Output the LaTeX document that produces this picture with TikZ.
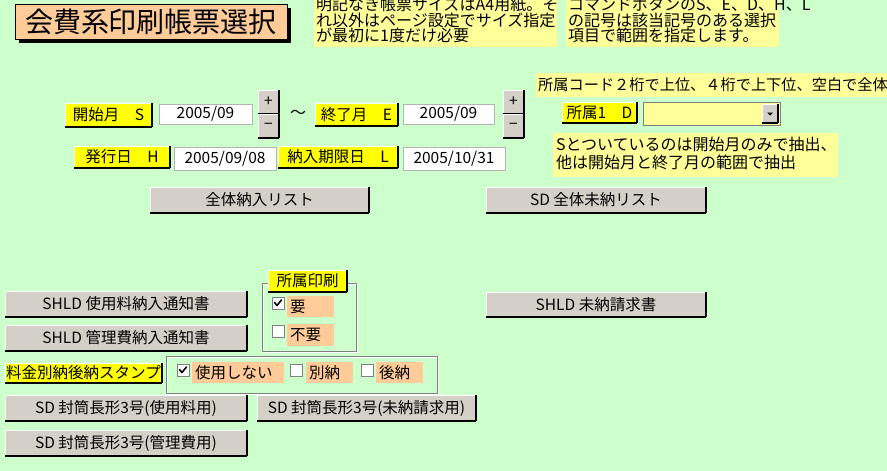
\documentclass[tikz,border=0pt]{standalone}
\usepackage{fontspec}
\setmainfont{Noto Sans CJK JP}
\usetikzlibrary{shadows}
\definecolor{bgc}{HTML}{CCFFCC}
\definecolor{notec}{HTML}{FFFF99}
\definecolor{peach}{HTML}{FFCC99}
\definecolor{btng}{HTML}{D4D0C8}
\definecolor{ylw}{HTML}{FFFF00}
\definecolor{frameg}{HTML}{808080}
\tikzset{
  base/.style={anchor=north west, inner sep=0pt, outer sep=0pt, font=\fontsize{15.5}{17}\selectfont},
  bevel/.style={append after command={
      (\tikzlastnode.south west) edge[draw=white,line width=1pt] (\tikzlastnode.north west)
      (\tikzlastnode.north west) edge[draw=white,line width=1pt] (\tikzlastnode.north east)
      (\tikzlastnode.south west) edge[draw=black,line width=1.5pt] (\tikzlastnode.south east)
      (\tikzlastnode.south east) edge[draw=black,line width=1.5pt] (\tikzlastnode.north east)}},
  gbtn/.style={base, fill=btng, bevel},
  ybtn/.style={base, fill=ylw, bevel},
  fld/.style={base, fill=white, draw=frameg!60, line width=1pt},
  note/.style={base, fill=notec},
  txtline/.style={anchor=base west, inner sep=0pt, font=\fontsize{16}{18}\selectfont},
  plab/.style={base, fill=peach, align=left, inner xsep=3pt},
  cbx/.style={base, fill=white, draw=frameg, line width=1pt, minimum width=12pt, minimum height=12pt},
  grp/.style={base, draw=frameg, line width=1pt},
  tick/.style={line width=1.6pt, line cap=round, line join=round},
}
\begin{document}
\begin{tikzpicture}[x=1pt,y=-1pt]
\fill[bgc] (0,0) rectangle (887,471);
\useasboundingbox (0,0) rectangle (887,471);
\begin{scope}
\clip (0,0) rectangle (887,471);
% title
\node[base, fill=peach, draw=black, line width=1pt, minimum width=272pt, minimum height=35pt,
      font=\fontsize{28}{30}\selectfont,
      drop shadow={shadow xshift=4pt, shadow yshift=-4pt, fill=black, opacity=1}] (title) at (15,4) {会費系印刷帳票選択};
% note 1
\node[note, minimum width=243pt, minimum height=47pt] (n1) at (314,0) {};
\node[txtline] (n1a) at (316,10.6) {明記なき帳票サイズはA4用紙。そ};
\node[txtline] (n1b) at (316,26.1) {れ以外はページ設定でサイズ指定};
\node[txtline] (n1c) at (316,41.6) {が最初に1度だけ必要};
% note 2
\node[note, minimum width=213pt, minimum height=47pt] (n2) at (566,0) {};
\node[txtline] (n2a) at (568,10.6) {コマンドボタンのS、E、D、H、L};
\node[txtline] (n2b) at (568,26.1) {の記号は該当記号のある選択};
\node[txtline] (n2c) at (568,41.6) {項目で範囲を指定します。};
% note 3
\node[note, minimum width=360pt, minimum height=24pt] (n3) at (536,73) {};
\node[txtline, font=\fontsize{15.2}{17}\selectfont] (n3a) at (538,90.8) {所属コード２桁で上位、４桁で上下位、空白で全体};
% row 1
\node[ybtn, minimum width=87pt, minimum height=24pt] (bS) at (65,103) {開始月\hspace{1em}S};
\node[fld, minimum width=93pt, minimum height=20pt] (fS) at (159,104) {2005/09};
\node[gbtn, minimum width=21pt, minimum height=24pt] (pS) at (258,90) {+};
\node[gbtn, minimum width=21pt, minimum height=24pt] (mS) at (258,114) {−};
\node[font=\fontsize{16}{18}\selectfont, inner sep=0pt] (tl) at (298,114) {〜};
\node[ybtn, minimum width=83pt, minimum height=23pt] (bE) at (315,103) {終了月\hspace{1em}E};
\node[fld, minimum width=91pt, minimum height=20pt] (fE) at (403,104) {2005/09};
\node[gbtn, minimum width=21pt, minimum height=24pt] (pE) at (503,90) {+};
\node[gbtn, minimum width=21pt, minimum height=24pt] (mE) at (503,114) {−};
% row 2
\node[ybtn, minimum width=96pt, minimum height=22pt] (bH) at (74,146) {発行日\hspace{1em}H};
\node[fld, minimum width=102pt, minimum height=23pt] (fH) at (174,147) {2005/09/08};
\node[ybtn, minimum width=120pt, minimum height=22pt] (bL) at (278,146) {納入期限日\hspace{1em}L};
\node[fld, minimum width=102pt, minimum height=23pt] (fL) at (403,147) {2005/10/31};
% D
\node[ybtn, minimum width=75pt, minimum height=21pt] (bD) at (562,102) {所属1\hspace{1em}D};
\node[base, fill=notec, draw=frameg, line width=1pt, minimum width=137pt, minimum height=23pt] (cmb) at (643,102) {};
\node[gbtn, minimum width=16pt, minimum height=19pt] (dd) at (762,104) {};
\fill ([xshift=-3pt,yshift=1pt]dd.center) -- ([xshift=3pt,yshift=1pt]dd.center) -- ([yshift=-2pt]dd.center) -- cycle;
% note 4
\node[note, minimum width=285pt, minimum height=44pt] (n4) at (553,133) {};
\node[txtline] (n4a) at (556,150.1) {Sとついているのは開始月のみで抽出、};
\node[txtline] (n4b) at (556,168.1) {他は開始月と終了月の範囲で抽出};
% list buttons
\node[gbtn, minimum width=219pt, minimum height=26pt] (bAll) at (150,187) {全体納入リスト};
\node[gbtn, minimum width=220pt, minimum height=26pt] (bSDAll) at (486,187) {SD 全体未納リスト};
% group 1
\draw[white, line width=1pt] (263,284) rectangle (357,352);
\node[grp, minimum width=94pt, minimum height=68pt] (g1) at (262,283) {};
\node[ybtn, minimum width=79pt, minimum height=22pt] (bPr) at (268,270) {所属印刷};
\node[cbx] (cY) at (272,297) {};
\draw[tick] ([xshift=-3.5pt,yshift=0.5pt]cY.center) -- ([xshift=-1pt,yshift=-2.5pt]cY.center) -- ([xshift=3.5pt,yshift=3pt]cY.center);
\node[plab, minimum height=21pt, text width=41pt] (lY) at (287,296) {要};
\node[cbx] (cN) at (272,325) {};
\node[plab, minimum height=22pt, text width=41pt] (lN) at (287,324) {不要};
% SHLD buttons
\node[gbtn, minimum width=242pt, minimum height=26pt] (bSH1) at (5,291) {SHLD 使用料納入通知書};
\node[gbtn, minimum width=242pt, minimum height=26pt] (bSH2) at (5,325) {SHLD 管理費納入通知書};
\node[gbtn, minimum width=220pt, minimum height=25pt] (bSH3) at (486,292) {SHLD 未納請求書};
% stamp
\node[ybtn, minimum width=157pt, minimum height=20pt] (bSt) at (5,363) {料金別納後納スタンプ};
\draw[white, line width=1pt] (167,357) rectangle (438,394);
\node[grp, minimum width=271pt, minimum height=37pt] (g2) at (166,356) {};
\node[cbx] (c1) at (177,364) {};
\draw[tick] ([xshift=-3.5pt,yshift=0.5pt]c1.center) -- ([xshift=-1pt,yshift=-2.5pt]c1.center) -- ([xshift=3.5pt,yshift=3pt]c1.center);
\node[plab, minimum height=21pt, text width=86pt] (l1) at (192,362) {使用しない};
\node[cbx] (c2) at (290,364) {};
\node[plab, minimum height=21pt, text width=41pt] (l2) at (306,362) {別納};
\node[cbx] (c3) at (361,364) {};
\node[plab, minimum height=21pt, text width=41pt] (l3) at (376,362) {後納};
% SD buttons
\node[gbtn, minimum width=242pt, minimum height=26pt] (bSD1) at (5,395) {SD 封筒長形3号(使用料用)};
\node[gbtn, minimum width=219pt, minimum height=26pt] (bSD2) at (257,395) {SD 封筒長形3号(未納請求用)};
\node[gbtn, minimum width=242pt, minimum height=26pt] (bSD3) at (5,430) {SD 封筒長形3号(管理費用)};
\end{scope}
\end{tikzpicture}
\end{document}
